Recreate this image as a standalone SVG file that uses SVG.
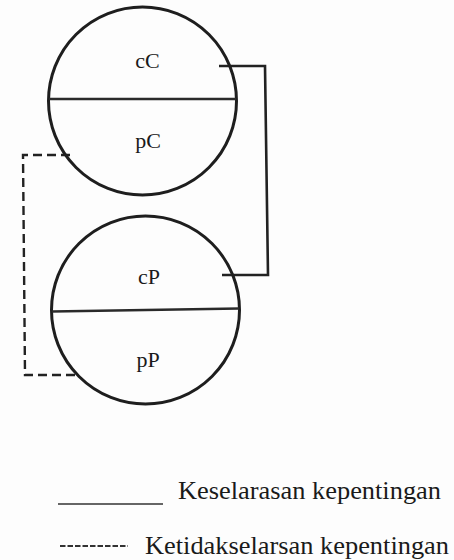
<svg xmlns="http://www.w3.org/2000/svg" width="454" height="560" viewBox="0 0 454 560">
<style>
.c{fill:none;stroke:#1e1e1e;stroke-width:3}
.d{fill:none;stroke:#2a2a2a;stroke-width:2.6}
.lbl{font-family:"Liberation Serif","Times New Roman",serif;font-size:22px;fill:#1a1a1a;text-anchor:middle}
.leg{font-family:"Liberation Serif","Times New Roman",serif;font-size:25px;fill:#1a1a1a}
.solid{fill:none;stroke:#222;stroke-width:2.6}
.dash{fill:none;stroke:#222;stroke-width:2.4;stroke-dasharray:9 5}
</style>
<rect width="454" height="560" fill="#fdfdfd"/>
<g id="connectors">
<polyline class="solid" points="219,66 265,66 268,275 222,275"/>
<polyline class="dash" points="70,155 23,155 25,375 77,375"/>
</g>
<g id="nodeC">
<circle class="c" cx="142.5" cy="101" r="94"/>
<line class="d" x1="49" y1="99" x2="236" y2="99"/>
<text class="lbl" x="147.5" y="68">cC</text>
<text class="lbl" x="148" y="148">pC</text>
</g>
<g id="nodeP">
<circle class="c" cx="145.5" cy="310" r="94"/>
<line class="d" x1="52" y1="311.5" x2="239" y2="308.5"/>
<text class="lbl" x="149" y="284">cP</text>
<text class="lbl" x="148" y="367">pP</text>
</g>
<g id="legend">
<line x1="58" y1="504" x2="163" y2="504" stroke="#333" stroke-width="1.6"/>
<text class="leg" x="178" y="499" textLength="263" lengthAdjust="spacingAndGlyphs">Keselarasan kepentingan</text>
<line x1="60" y1="546" x2="128" y2="546" stroke="#333" stroke-width="1.8" stroke-dasharray="5.5 2"/>
<text class="leg" x="145" y="554" textLength="304" lengthAdjust="spacingAndGlyphs">Ketidakselarsan kepentingan</text>
</g>
</svg>
